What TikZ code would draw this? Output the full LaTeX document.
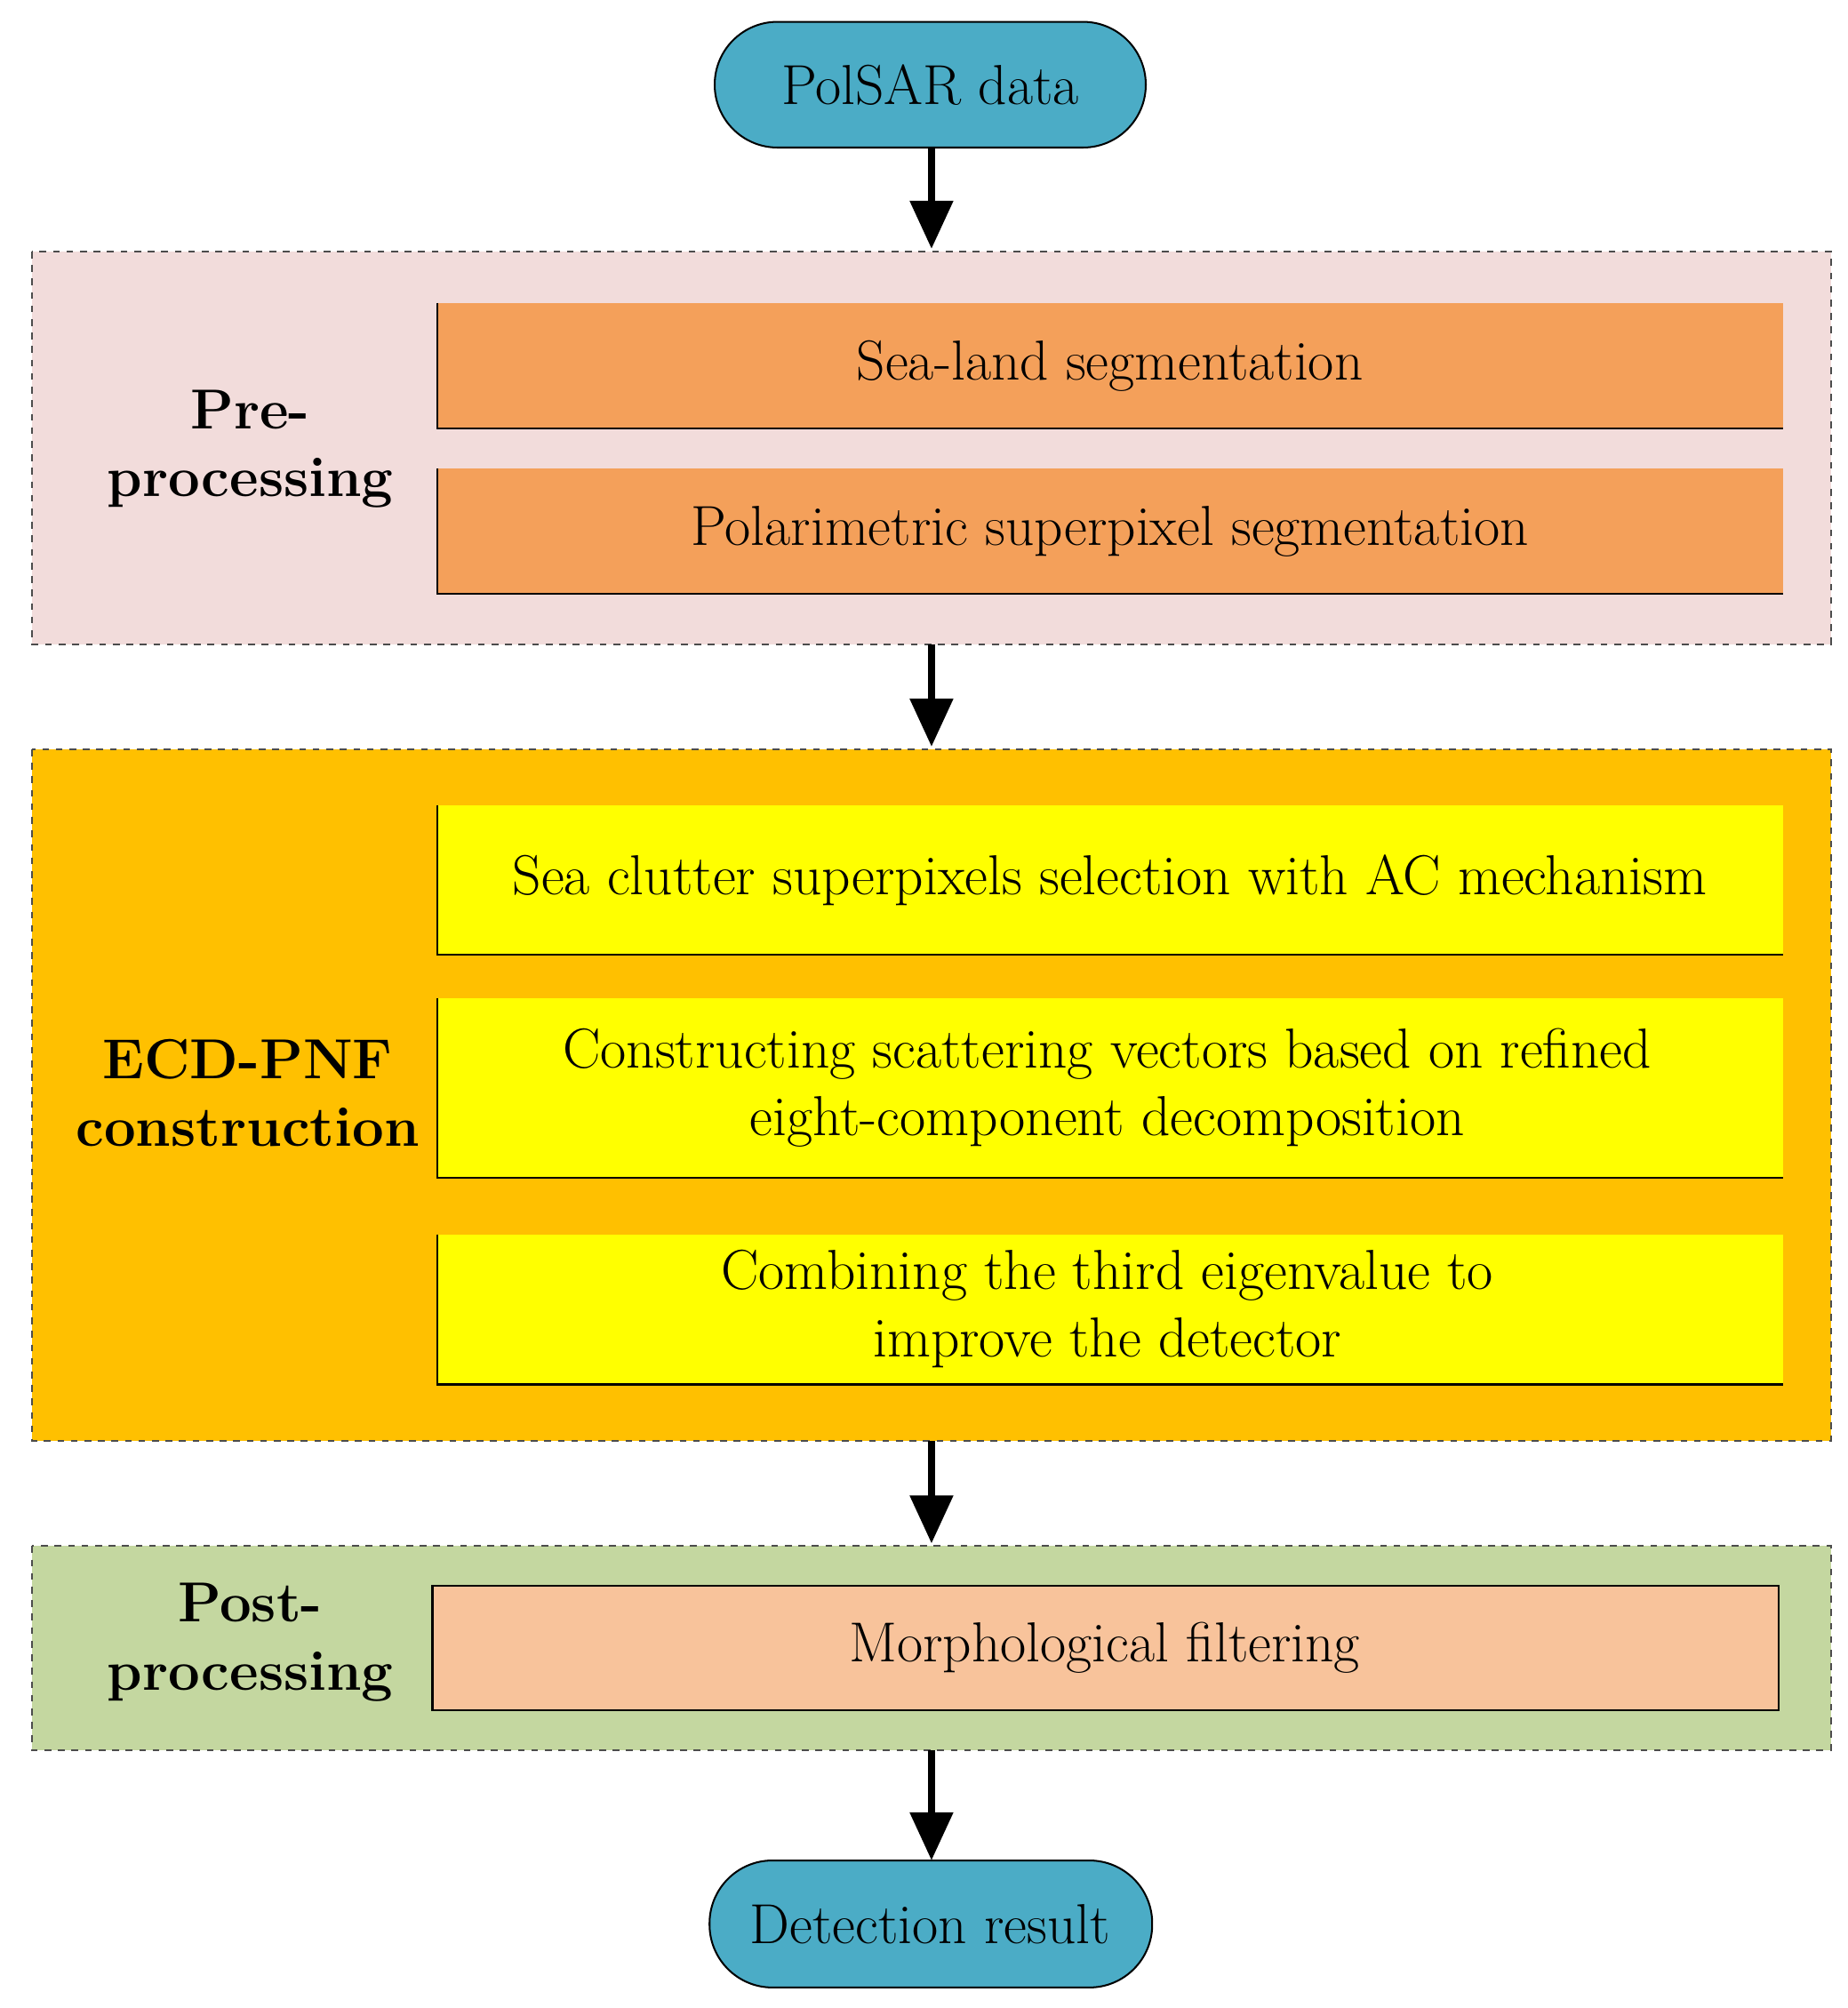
\documentclass[tikz,border=0pt]{standalone}
\usetikzlibrary{arrows.meta}
\begin{document}
\begin{tikzpicture}[x=0.02cm,y=-0.02cm,
  txt/.style={font=\fontsize{25}{30}\selectfont,align=center},
  grp/.style={draw=black!70,dashed,line width=0.8pt},
  term/.style={draw=black,line width=0.8pt,fill=cterm,rounded corners=0.98cm},
  arr/.style={line width=3.5pt,-{Triangle[length=0.75cm,width=0.65cm]}},
  edge/.style={line width=0.9pt}]
\definecolor{cterm}{RGB}{75,172,198}
\definecolor{cpre}{RGB}{242,220,219}
\definecolor{corg}{RGB}{244,160,90}
\definecolor{cecd}{RGB}{255,192,0}
\definecolor{cyel}{RGB}{255,255,0}
\definecolor{cpost}{RGB}{196,215,160}
\definecolor{cmor}{RGB}{248,195,155}
\useasboundingbox (0,0) rectangle (1440,1565);
% groups
\draw[grp,fill=cpre] (25,196) rectangle (1427,502);
\draw[grp,fill=cecd] (25,584) rectangle (1427,1123);
\draw[grp,fill=cpost] (25,1205) rectangle (1427,1364);
% terminals
\draw[term] (557,17) rectangle (893,115);
\node[txt] (start) at (725,66) {PolSAR data};
\coordinate (startb) at (726,115);
\draw[term] (553,1450) rectangle (898,1549);
\node[txt] (end) at (725,1500) {Detection result};
\coordinate (endt) at (726,1450);
% boxes
\fill[corg] (341,236) rectangle (1390,334);
\draw[edge] (341,236) -- (341,334) -- (1390,334);
\node[txt] (sl) at (865,285) {Sea-land segmentation};
\fill[corg] (341,365) rectangle (1390,463);
\draw[edge] (341,365) -- (341,463) -- (1390,463);
\node[txt] (ps) at (865,414) {Polarimetric superpixel segmentation};
\fill[cyel] (341,628) rectangle (1390,744);
\draw[edge] (341,628) -- (341,744) -- (1390,744);
\node[txt] (sc) at (865,686) {Sea clutter superpixels selection with AC mechanism};
\fill[cyel] (341,778) rectangle (1390,918);
\draw[edge] (341,778) -- (341,918) -- (1390,918);
\node[txt] (cs) at (863,848) {Constructing scattering vectors based on refined\\eight-component decomposition};
\fill[cyel] (341,962) rectangle (1390,1079);
\draw[edge] (341,962) -- (341,1079) -- (1390,1079);
\node[txt] (ct) at (863,1020) {Combining the third eigenvalue to\\improve the detector};
\fill[cmor] (337,1236) rectangle (1386,1333);
\draw[edge] (337,1236) rectangle (1386,1333);
\node[txt] (mf) at (861,1284) {Morphological filtering};
% labels
\node[txt,font=\fontsize{25}{30}\selectfont\bfseries] (lpre) at (195,350) {Pre-\\processing};
\node[txt,font=\fontsize{25}{30}\selectfont\bfseries] (lecd) at (193,852) {ECD-PNF\\construction};
\node[txt,font=\fontsize{25}{30}\selectfont\bfseries] (lpost) at (195,1280) {Post-\\processing};
% arrows
\coordinate (g1t) at (726,194);
\coordinate (g1b) at (726,502);
\coordinate (g2t) at (726,582);
\coordinate (g2b) at (726,1123);
\coordinate (g3t) at (726,1203);
\coordinate (g3b) at (726,1364);
\draw[arr] (startb) -- (g1t);
\draw[arr] (g1b) -- (g2t);
\draw[arr] (g2b) -- (g3t);
\draw[arr] (g3b) -- (endt);
\end{tikzpicture}
\end{document}
